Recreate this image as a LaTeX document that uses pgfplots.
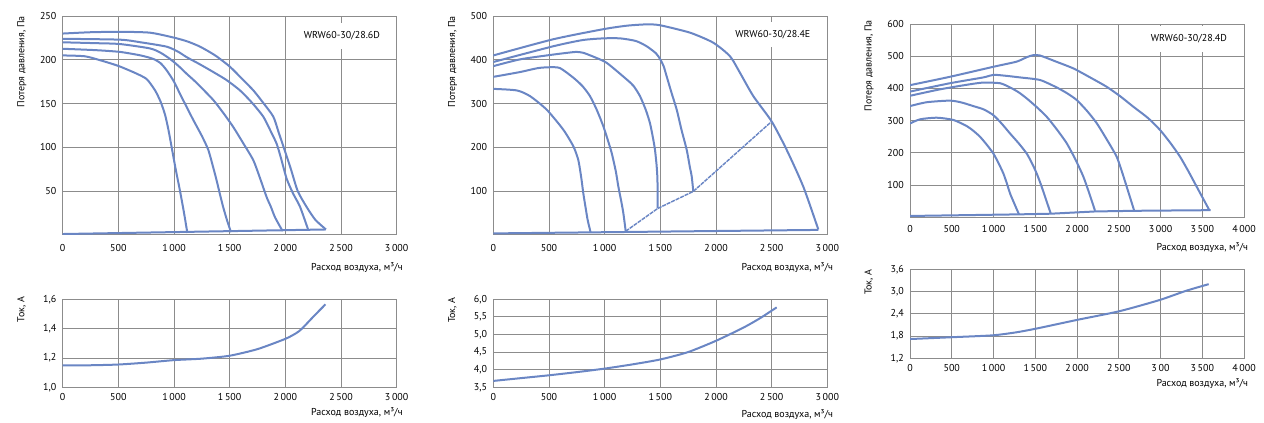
\documentclass[border=0pt]{standalone}
\usepackage{fontspec}
\setmainfont{PT Sans}
\usepackage{pgfplots}
\pgfplotsset{compat=1.18}
\definecolor{curve}{RGB}{106,134,196}
\definecolor{gridc}{RGB}{140,140,140}
\newcommand{\fs}{\fontsize{7.5}{9}\selectfont}
\pgfplotsset{
 myax/.style={scale only axis, width=250.5pt, anchor=south west, clip mode=individual,
  grid=major, grid style={gridc, line width=0.6pt}, axis line style={gridc, line width=0.6pt},
  major tick length=0pt, tick style={draw=none},
  tick label style={font=\fs},
  yticklabel style={anchor=east, inner sep=0pt, xshift=-4.5pt},
  xticklabel style={anchor=base, inner sep=0pt},
  /pgf/number format/assume math mode=true,
  /pgf/number format/use comma, /pgf/number format/1000 sep={\,}},
 cv/.style={curve, line width=1.5pt, line join=round, mark=none},
 sm/.style={cv, smooth, tension=0.4},
 onedec/.style={yticklabel style={/pgf/number format/.cd, fixed, fixed zerofill, precision=1}},
}
\newcommand{\XL}[2]{\node[font=\fs, anchor=base east, inner sep=0pt, xshift=#1, yshift=#2] at (rel axis cs:1,0) {Расход воздуха, м³/ч};}
\newcommand{\YL}[2]{\node[font=\fs, inner sep=0pt, xshift=-28.7pt, yshift=#2, rotate=90, anchor=base east] at (rel axis cs:0,1) {#1};}
\newcommand{\TB}[3]{\node[fill=white, font=\fs, inner xsep=4pt, minimum height=19pt] at (rel axis cs:#1,#2) {#3};}
\begin{document}
\begin{tikzpicture}
\path[use as bounding box] (0,0) rectangle (948pt,317.25pt);
% ---------- A1
\begin{axis}[myax, at={(47pt,141.2pt)}, height=164pt, xmin=0, xmax=3000, ymin=0, ymax=250,
  xtick={0,500,...,3000}, ytick={50,100,150,200,250}, xticklabel style={yshift=-12.6pt}]
\addplot[sm] coordinates {(0,205) (200,204) (350,199) (500,193) (650,185) (754,178) (830,165) (880,152) (920,137) (950,120) (979,100) (1015,75) (1054,50) (1090,25) (1120,2)};
\addplot[sm] coordinates {(0,212.6) (300,211) (515,209) (700,205) (814,201) (880,196) (934,188) (1000,175) (1054,161) (1114,146) (1174,131) (1250,113) (1308,97) (1350,78) (1383,62) (1415,45) (1443,31) (1480,15) (1512,3)};
\addplot[sm] coordinates {(0,220) (300,219) (515,218) (784,213) (880,208) (964,201) (1040,193) (1114,184) (1200,174) (1353,154) (1450,138) (1533,123) (1620,105) (1713,85) (1780,62) (1832,43) (1870,32) (1907,20) (1976,4)};
\addplot[sm] coordinates {(0,224) (515,223) (700,220) (934,215) (1040,209) (1114,203) (1230,195) (1353,186) (1470,177) (1593,165) (1700,151) (1802,135) (1870,118) (1922,104) (1960,88) (2012,64) (2070,47) (2132,32) (2207,5)};
\addplot[sm] coordinates {(0,230) (250,231.5) (515,232) (784,231) (994,225.5) (1120,221) (1234,215) (1370,205) (1503,192) (1613,178) (1713,165) (1800,151) (1892,135) (1940,117) (1985,100) (2050,75) (2111,50) (2190,32) (2270,17) (2365,6)};
\addplot[cv] coordinates {(0,0.8) (2365,6)};
\TB{0.836}{0.909}{WRW60-30/28.6D}
\XL{4.7pt}{-26.9pt}
\YL{Потеря давления, Па}{0pt}
\end{axis}
% ---------- A2
\begin{axis}[myax, onedec, at={(47pt,26.8pt)}, height=66pt, xmin=0, xmax=3000, ymin=1, ymax=1.6,
  xtick={0,500,...,3000}, ytick={1,1.2,1.4,1.6}, xticklabel style={yshift=-9.7pt}]
\addplot[sm] coordinates {(0,1.15) (250,1.15) (500,1.155) (750,1.168) (1000,1.185) (1250,1.195) (1500,1.215) (1750,1.26) (2000,1.33) (2100,1.37) (2150,1.40) (2250,1.48) (2360,1.565)};
\XL{4.7pt}{-20.9pt}
\YL{Ток, А}{2pt}
\end{axis}
% ---------- B1
\begin{axis}[myax, at={(370pt,141.2pt)}, height=164pt, xmin=0, xmax=3000, ymin=0, ymax=500,
  xtick={0,500,...,3000}, ytick={100,200,300,400,500}, xticklabel style={yshift=-12.6pt}]
\addplot[sm] coordinates {(0,333.5) (210,330) (329,317) (479,286) (629,240) (719,202) (763,171) (790,130) (808,95) (830,60) (847,34) (874,5)};
\addplot[sm] coordinates {(0,361) (240,372) (400,381) (509,383) (599,381) (719,359) (800,340) (868,317) (930,285) (988,248) (1030,215) (1063,187) (1100,145) (1123,110) (1150,75) (1168,49) (1189,8)};
\addplot[sm] coordinates {(0,385.5) (240,401) (539,412) (700,417) (749,418) (808,416) (900,407) (1018,393) (1198,355) (1260,340) (1317,317) (1370,285) (1407,255) (1435,220) (1452,194) (1466,160) (1473,133) (1476,100) (1476,60)};
\addplot[sm] coordinates {(0,395) (539,431) (800,445) (988,449) (1138,449) (1280,443) (1377,431) (1460,415) (1497,402) (1530,385) (1557,362) (1600,325) (1647,286) (1690,240) (1737,194) (1765,155) (1782,133) (1796,99)};
\addplot[sm] coordinates {(0,410) (539,447) (988,470) (1200,478) (1377,481) (1497,479) (1767,462) (1976,439) (2126,408) (2216,370) (2335,317) (2500,259) (2635,194) (2784,110) (2919,12)};
\addplot[cv, line width=1.1pt, dash pattern=on 3pt off 0.7pt] coordinates {(1189,8) (1476,60) (1796,99) (2500,259)};
\addplot[cv] coordinates {(0,3) (2920,11)};
\TB{0.837}{0.916}{WRW60-30/28.4E}
\XL{4.5pt}{-26.6pt}
\YL{Потеря давления, Па}{0pt}
\end{axis}
% ---------- B2
\begin{axis}[myax, onedec, at={(370pt,26.8pt)}, height=66pt, xmin=0, xmax=3000, ymin=3.5, ymax=6,
  xtick={0,500,...,3000}, ytick={3.5,4,4.5,5,5.5,6}, xticklabel style={yshift=-9.7pt}]
\addplot[sm] coordinates {(0,3.68) (250,3.76) (500,3.84) (750,3.93) (1000,4.03) (1250,4.15) (1500,4.29) (1750,4.5) (2000,4.82) (2250,5.2) (2400,5.47) (2545,5.77)};
\XL{4.5pt}{-22.6pt}
\YL{Ток, А}{1.5pt}
\end{axis}
% ---------- C1
\begin{axis}[myax, at={(682.5pt,154.3pt)}, height=145pt, xmin=0, xmax=4000, ymin=0, ymax=600,
  xtick={0,500,...,4000}, ytick={100,200,300,400,500,600}, xticklabel style={yshift=-11.2pt}]
\addplot[sm] coordinates {(0,291) (120,304) (319,309) (519,302) (679,283) (760,268) (838,250) (920,225) (998,198) (1060,168) (1118,136) (1160,105) (1198,74) (1250,42) (1305,9)};
\addplot[sm] coordinates {(0,345) (200,357) (479,362) (620,356) (758,345) (880,335) (998,317) (1100,290) (1198,260) (1300,230) (1397,198) (1460,168) (1517,136) (1570,100) (1617,64) (1685,12)};
\addplot[sm] coordinates {(0,377) (359,397) (700,412) (878,418) (1078,416) (1198,403) (1300,388) (1397,369) (1517,342) (1637,312) (1760,272) (1876,230) (1980,180) (2076,126) (2150,72) (2216,20)};
\addplot[sm] coordinates {(0,390) (479,416) (878,434) (998,442) (1150,439) (1317,434) (1557,426) (1756,403) (1880,385) (1996,364) (2120,330) (2236,292) (2360,240) (2475,188) (2540,140) (2595,95) (2683,22)};
\addplot[sm] coordinates {(0,410) (479,436) (998,467) (1277,483) (1400,497) (1477,503) (1557,502) (1750,483) (1956,462) (2150,435) (2355,405) (2520,375) (2675,343) (2850,308) (2994,271) (3120,230) (3234,188) (3340,140) (3433,95) (3585,22)};
\addplot[cv] coordinates {(0,4) (1305,9) (1685,11) (2216,18) (2683,20) (3600,22)};
\TB{0.835}{0.922}{WRW60-30/28.4D}
\XL{3.2pt}{-25.1pt}
\YL{Потеря давления, Па}{3pt}
\end{axis}
% ---------- C2
\begin{axis}[myax, onedec, at={(682.5pt,48.5pt)}, height=66.75pt, xmin=0, xmax=4000, ymin=1.2, ymax=3.6,
  xtick={0,500,...,4000}, xticklabels={0,500,1\,000,1\,500,2\,000,2\,500,3\,00,3\,500,4\,000},
  ytick={1.2,1.8,2.4,3.0,3.6}, xticklabel style={yshift=-9.7pt}]
\addplot[sm] coordinates {(0,1.72) (511,1.77) (990,1.82) (1269,1.9) (1509,2.0) (1988,2.23) (2507,2.47) (2986,2.77) (3305,3.02) (3577,3.2)};
\XL{3.2pt}{-21.4pt}
\YL{Ток, А}{0pt}
\end{axis}
\end{tikzpicture}
\end{document}
